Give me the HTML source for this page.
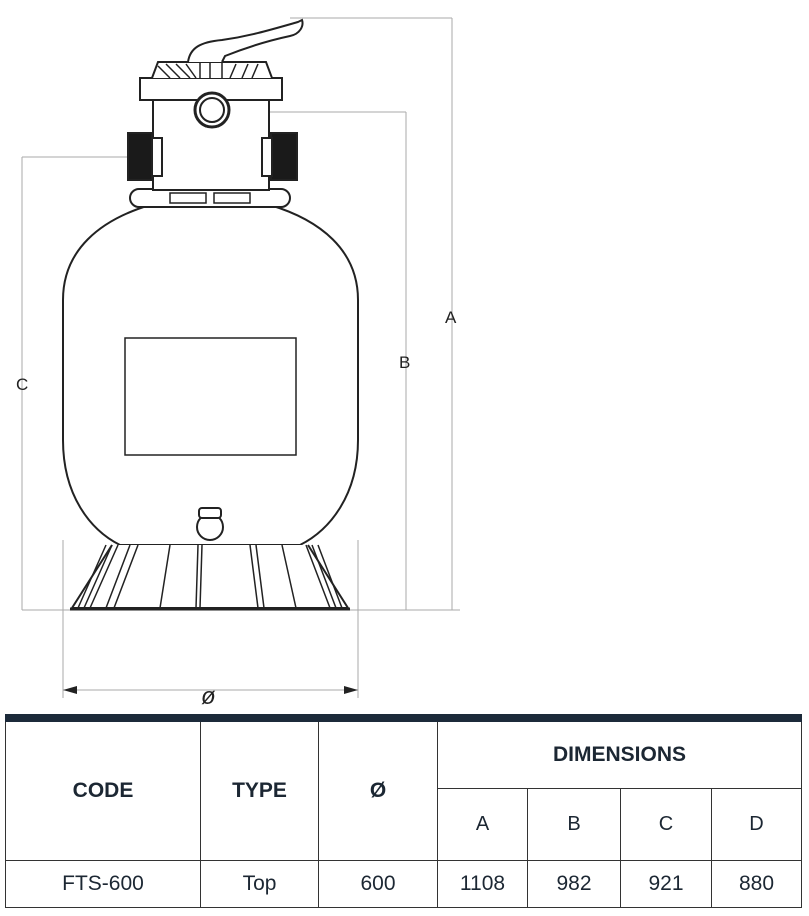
<!DOCTYPE html>
<html><head><style>
body{margin:0;background:#fff;width:809px;height:916px;overflow:hidden;font-family:"Liberation Sans",sans-serif}
table{position:absolute;left:5px;top:714px;border-collapse:collapse;width:797px;color:#1c2733}
td{border:1px solid #333;text-align:center;padding:0}
.h{font-weight:bold;font-size:21px}
</style></head><body>
<svg width="809" height="710" style="position:absolute;left:0;top:0" fill="none" stroke="#222" stroke-width="2">
<g stroke="#aaa" stroke-width="1">
<line x1="290" y1="18" x2="452" y2="18"/><line x1="452" y1="18" x2="452" y2="610"/>
<line x1="240" y1="112" x2="406" y2="112"/><line x1="406" y1="112" x2="406" y2="610"/>
<line x1="22" y1="157" x2="130" y2="157"/><line x1="22" y1="157" x2="22" y2="610"/>
<line x1="22" y1="610" x2="460" y2="610"/>
<line x1="63" y1="540" x2="63" y2="698"/><line x1="358" y1="540" x2="358" y2="698"/>
<line x1="63" y1="690" x2="358" y2="690"/>
</g>
<path d="M63 690 l14 -4 v8z M358 690 l-14 -4 v8z" fill="#222" stroke="none"/>
<g fill="#222" stroke="none" font-family="Liberation Sans" font-size="17">
<text x="445" y="323">A</text><text x="399" y="368">B</text><text x="16" y="390">C</text>
<text x="201" y="704" font-size="24" font-style="italic">ø</text>
</g>
<!-- tank -->
<path d="M150 205 C100 220 63 250 63 300 L63 440 C63 495 90 530 120 545 L300 545 C330 530 358 495 358 440 L358 300 C358 250 320 220 270 205" fill="#fff"/>
<rect x="125" y="338" width="171" height="117" stroke-width="1.5"/>
<path d="M112 545 L72 608 L348 608 L308 545" fill="#fff"/>
<line x1="70" y1="609" x2="350" y2="609" stroke-width="3"/>
<g stroke-width="1.5"><path d="M106 545 L78 608 M112 545 L84 608 M118 545 L90 608 M130 545 L106 608 M138 545 L114 608 M170 545 L160 608 M198 545 L196 608 M202 545 L200 608 M250 545 L258 608 M256 545 L264 608 M282 545 L296 608 M306 545 L330 608 M312 545 L336 608 M318 545 L342 608"/></g>
<circle cx="210" cy="527" r="13" fill="#fff"/>
<rect x="199" y="508" width="22" height="10" rx="3" fill="#fff"/>
<!-- valve -->
<rect x="130" y="189" width="160" height="18" rx="9" fill="#fff"/>
<rect x="170" y="193" width="36" height="10" stroke-width="1.5"/><rect x="214" y="193" width="36" height="10" stroke-width="1.5"/>
<rect x="153" y="100" width="116" height="90" fill="#fff"/>
<rect x="128" y="133" width="24" height="47" fill="#1a1a1a"/>
<rect x="271" y="133" width="26" height="47" fill="#1a1a1a"/>
<rect x="152" y="138" width="10" height="38" fill="#fff"/><rect x="262" y="138" width="10" height="38" fill="#fff"/>
<rect x="140" y="78" width="142" height="22" fill="#fff"/>
<path d="M152 78 L158 62 L266 62 L272 78" fill="#fff"/>
<path d="M158 66 L170 78 M166 64 L180 78 M176 64 L190 78 M186 64 L196 78 M200 62 L200 78 M210 62 L210 78 M222 62 L222 78 M236 64 L230 78 M248 64 L242 78 M258 64 L252 78" stroke-width="1.5"/>
<circle cx="212" cy="110" r="17" fill="#fff" stroke-width="3"/><circle cx="212" cy="110" r="12"/>
<path d="M188 62 C190 48 200 42 222 40 C250 36 270 30 298 22 L302 20 C304 26 300 34 290 36 C262 42 240 50 225 56 L222 62" fill="#fff"/>
</svg>
<table>
<tr><td colspan="7" style="height:6px;background:#1c2a3a;border-color:#1c2a3a"></td></tr>
<tr style="height:67px"><td rowspan="2" class="h" style="width:194px">CODE</td><td rowspan="2" class="h" style="width:117px">TYPE</td><td rowspan="2" class="h" style="width:118px">Ø</td><td colspan="4" class="h">DIMENSIONS</td></tr>
<tr style="height:72px;font-size:20px"><td style="width:89px">A</td><td style="width:92px">B</td><td style="width:90px">C</td><td>D</td></tr>
<tr style="height:47px;font-size:21px"><td>FTS-600</td><td>Top</td><td>600</td><td>1108</td><td>982</td><td>921</td><td>880</td></tr>
</table>
</body></html>
